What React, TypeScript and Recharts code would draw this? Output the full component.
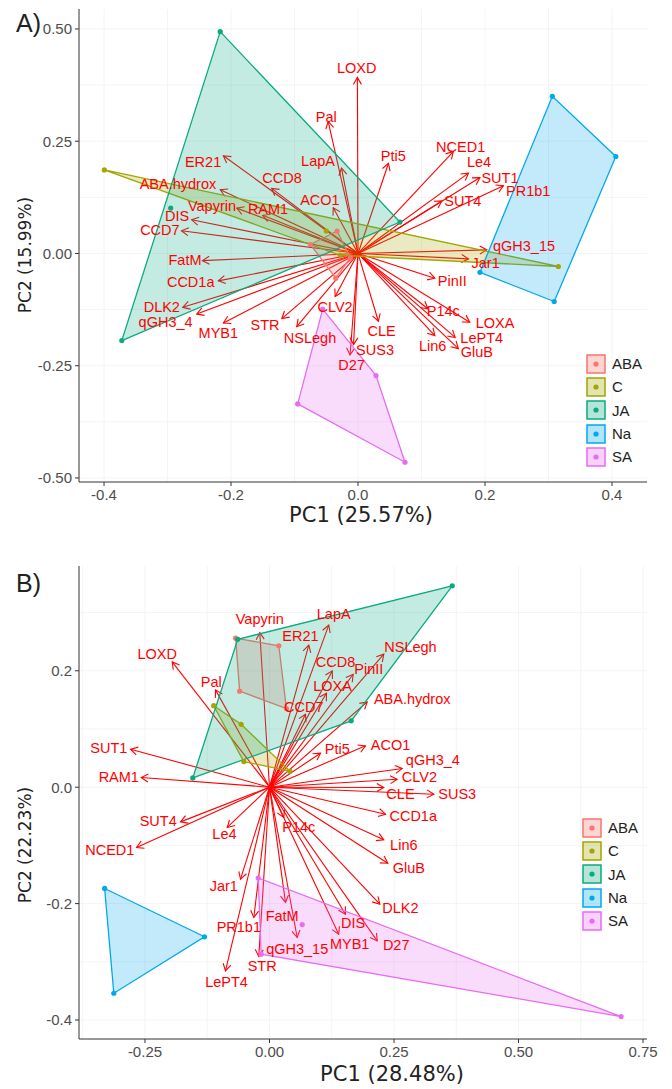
import React from "react";
import {
  ScatterChart,
  Scatter,
  XAxis,
  YAxis,
  CartesianGrid,
  ReferenceLine,
} from "recharts";

type Pt = { x: number; y: number };
type Gene = { name: string; x: number; y: number; lx: number; ly: number };

// treatment groups, same order as the legend
const groups = ["ABA", "C", "JA", "Na", "SA"];
const groupColors = ["#F8766D", "#A3A500", "#0AAA80", "#00A8EE", "#E76BF3"];

// ---- panel A: sample scores (PC1, PC2) ----
const abaA: Pt[] = [
  { x: -0.033, y: 0.05 },
  { x: -0.075, y: 0.02 },
  { x: -0.035, y: -0.055 },
  { x: -0.012, y: -0.01 },
];
const cA: Pt[] = [
  { x: -0.3995, y: 0.186 },
  { x: -0.028, y: -0.004 },
  { x: 0.3155, y: -0.029 },
  { x: -0.05, y: 0.05 },
];
const jaA: Pt[] = [
  { x: -0.217, y: 0.494 },
  { x: -0.295, y: 0.101 },
  { x: -0.372, y: -0.194 },
  { x: 0.066, y: 0.07 },
];
const naA: Pt[] = [
  { x: 0.306, y: 0.35 },
  { x: 0.406, y: 0.216 },
  { x: 0.309, y: -0.107 },
  { x: 0.192, y: -0.042 },
];
const saA: Pt[] = [
  { x: -0.0556, y: -0.124 },
  { x: 0.0283, y: -0.272 },
  { x: 0.074, y: -0.465 },
  { x: -0.095, y: -0.335 },
];

// ---- panel A: gene loadings (arrow tip) and where the label sits ----
const genesA: Gene[] = [
  { name: "LOXD", x: -0.001, y: 0.392, lx: -0.002, ly: 0.413 },
  { name: "Pal", x: -0.047, y: 0.294, lx: -0.05, ly: 0.305 },
  { name: "ER21", x: -0.212, y: 0.2176, lx: -0.244, ly: 0.2027 },
  { name: "LapA", x: -0.026, y: 0.19, lx: -0.063, ly: 0.205 },
  { name: "Pti5", x: 0.048, y: 0.201, lx: 0.0556, ly: 0.216 },
  { name: "NCED1", x: 0.15, y: 0.227, lx: 0.1617, ly: 0.2367 },
  { name: "Le4", x: 0.174, y: 0.179, lx: 0.1906, ly: 0.203 },
  { name: "SUT1", x: 0.192, y: 0.169, lx: 0.2236, ly: 0.168 },
  { name: "PR1b1", x: 0.229, y: 0.151, lx: 0.268, ly: 0.14 },
  { name: "CCD8", x: -0.136, y: 0.145, lx: -0.1197, ly: 0.167 },
  { name: "ACO1", x: -0.039, y: 0.102, lx: -0.06, ly: 0.12 },
  { name: "SUT4", x: 0.132, y: 0.117, lx: 0.165, ly: 0.116 },
  { name: "ABA.hydrox", x: -0.217, y: 0.142, lx: -0.2835, ly: 0.1537 },
  { name: "Vapyrin", x: -0.191, y: 0.101, lx: -0.23, ly: 0.1047 },
  { name: "RAM1", x: -0.15, y: 0.085, lx: -0.1417, ly: 0.098 },
  { name: "DIS", x: -0.262, y: 0.075, lx: -0.285, ly: 0.0824 },
  { name: "CCD7", x: -0.278, y: 0.0505, lx: -0.312, ly: 0.0512 },
  { name: "qGH3_15", x: 0.2027, y: 0.008, lx: 0.2614, ly: 0.0156 },
  { name: "Jar1", x: 0.174, y: -0.012, lx: 0.201, ly: -0.0216 },
  { name: "FatM", x: -0.245, y: -0.016, lx: -0.2724, ly: -0.0156 },
  { name: "CCD1a", x: -0.22, y: -0.061, lx: -0.2635, ly: -0.064 },
  { name: "PinII", x: 0.121, y: -0.055, lx: 0.1485, ly: -0.0608 },
  { name: "DLK2", x: -0.276, y: -0.12, lx: -0.309, ly: -0.12 },
  { name: "qGH3_4", x: -0.254, y: -0.135, lx: -0.303, ly: -0.153 },
  { name: "MYB1", x: -0.212, y: -0.155, lx: -0.22, ly: -0.1775 },
  { name: "STR", x: -0.12, y: -0.145, lx: -0.1465, ly: -0.16 },
  { name: "NSLegh", x: -0.0965, y: -0.163, lx: -0.0756, ly: -0.1886 },
  { name: "CLV2", x: -0.036, y: -0.096, lx: -0.0362, ly: -0.12 },
  { name: "CLE", x: 0.032, y: -0.151, lx: 0.0373, ly: -0.1737 },
  { name: "SUS3", x: -0.007, y: -0.203, lx: 0.0268, ly: -0.2145 },
  { name: "D27", x: -0.0126, y: -0.226, lx: -0.01, ly: -0.248 },
  { name: "P14c", x: 0.11, y: -0.123, lx: 0.1343, ly: -0.129 },
  { name: "LOXA", x: 0.176, y: -0.153, lx: 0.2157, ly: -0.155 },
  { name: "LePT4", x: 0.153, y: -0.187, lx: 0.1948, ly: -0.1886 },
  { name: "Lin6", x: 0.121, y: -0.183, lx: 0.1176, ly: -0.2056 },
  { name: "GluB", x: 0.158, y: -0.212, lx: 0.187, ly: -0.2198 },
];

// ---- panel B: sample scores ----
const abaB: Pt[] = [
  { x: -0.068, y: 0.256 },
  { x: 0.0187, y: 0.243 },
  { x: 0.034, y: 0.135 },
  { x: -0.06, y: 0.165 },
];
const cB: Pt[] = [
  { x: -0.112, y: 0.14 },
  { x: -0.057, y: 0.108 },
  { x: 0.041, y: 0.0275 },
  { x: -0.0516, y: 0.044 },
];
const jaB: Pt[] = [
  { x: -0.0637, y: 0.254 },
  { x: 0.367, y: 0.346 },
  { x: 0.164, y: 0.114 },
  { x: -0.154, y: 0.016 },
];
const naB: Pt[] = [
  { x: -0.331, y: -0.174 },
  { x: -0.1305, y: -0.257 },
  { x: -0.3126, y: -0.354 },
];
const saB: Pt[] = [
  { x: -0.0227, y: -0.156 },
  { x: 0.706, y: -0.394 },
  { x: -0.0167, y: -0.287 },
  { x: 0.0657, y: -0.236 },
];

// ---- panel B: gene loadings ----
const genesB: Gene[] = [
  { name: "LOXD", x: -0.1954, y: 0.2153, lx: -0.2255, ly: 0.2285 },
  { name: "Vapyrin", x: -0.0195, y: 0.2658, lx: -0.0195, ly: 0.2887 },
  { name: "ER21", x: 0.0789, y: 0.244, lx: 0.0622, ly: 0.26 },
  { name: "LapA", x: 0.119, y: 0.2784, lx: 0.129, ly: 0.2973 },
  { name: "CCD8", x: 0.126, y: 0.1998, lx: 0.1325, ly: 0.2143 },
  { name: "PinII", x: 0.168, y: 0.194, lx: 0.1994, ly: 0.2027 },
  { name: "NSLegh", x: 0.2295, y: 0.2285, lx: 0.2831, ly: 0.24 },
  { name: "Pal", x: -0.1084, y: 0.1672, lx: -0.117, ly: 0.181 },
  { name: "LOXA", x: 0.1145, y: 0.1615, lx: 0.1265, ly: 0.1735 },
  { name: "CCD7", x: 0.0723, y: 0.1254, lx: 0.0689, ly: 0.137 },
  { name: "ABA.hydrox", x: 0.1962, y: 0.1466, lx: 0.2865, ly: 0.1512 },
  { name: "Pti5", x: 0.1024, y: 0.0584, lx: 0.136, ly: 0.0653 },
  { name: "ACO1", x: 0.1928, y: 0.071, lx: 0.243, ly: 0.0727 },
  { name: "SUT1", x: -0.279, y: 0.0653, lx: -0.3227, ly: 0.0665 },
  { name: "qGH3_4", x: 0.2665, y: 0.0321, lx: 0.328, ly: 0.046 },
  { name: "RAM1", x: -0.2576, y: 0.0167, lx: -0.3026, ly: 0.0167 },
  { name: "CLV2", x: 0.2564, y: 0.0137, lx: 0.301, ly: 0.017 },
  { name: "CLE", x: 0.2295, y: -0.0005, lx: 0.263, ly: -0.012 },
  { name: "SUS3", x: 0.33, y: -0.012, lx: 0.377, ly: -0.012 },
  { name: "CCD1a", x: 0.233, y: -0.0464, lx: 0.2886, ly: -0.0493 },
  { name: "SUT4", x: -0.1787, y: -0.0596, lx: -0.2235, ly: -0.058 },
  { name: "Le4", x: -0.0849, y: -0.0692, lx: -0.0904, ly: -0.0808 },
  { name: "P14c", x: 0.0287, y: -0.052, lx: 0.0588, ly: -0.0692 },
  { name: "Lin6", x: 0.2295, y: -0.0905, lx: 0.2697, ly: -0.0997 },
  { name: "NCED1", x: -0.267, y: -0.1036, lx: -0.3207, ly: -0.1077 },
  { name: "GluB", x: 0.2376, y: -0.1306, lx: 0.2797, ly: -0.138 },
  { name: "Jar1", x: -0.0582, y: -0.158, lx: -0.0918, ly: -0.1706 },
  { name: "DLK2", x: 0.2215, y: -0.201, lx: 0.263, ly: -0.2067 },
  { name: "PR1b1", x: -0.0315, y: -0.2239, lx: -0.0616, ly: -0.241 },
  { name: "FatM", x: 0.0321, y: -0.198, lx: 0.0255, ly: -0.2211 },
  { name: "DIS", x: 0.1526, y: -0.2182, lx: 0.168, ly: -0.2337 },
  { name: "MYB1", x: 0.139, y: -0.2526, lx: 0.161, ly: -0.2698 },
  { name: "D27", x: 0.2163, y: -0.2641, lx: 0.2544, ly: -0.271 },
  { name: "qGH3_15", x: 0.0556, y: -0.2582, lx: 0.0556, ly: -0.278 },
  { name: "STR", x: -0.0215, y: -0.2909, lx: -0.0147, ly: -0.307 },
  { name: "LePT4", x: -0.0884, y: -0.3156, lx: -0.0863, ly: -0.3345 },
];

// axis ticks
const xTicksA = [-0.4, -0.2, 0, 0.2, 0.4];
const yTicksA = [-0.5, -0.25, 0, 0.25, 0.5];
const xTicksB = [-0.25, 0, 0.25, 0.5, 0.75];
const yTicksB = [-0.4, -0.2, 0, 0.2];

const FONT = "'Liberation Sans', Arial, sans-serif";
const TITLE_FONT = "'DejaVu Sans', Verdana, sans-serif";

// convex hull, like stat_chull
function hull(pts: Pt[]): Pt[] {
  const p = [...pts].sort((a, b) => a.x - b.x || a.y - b.y);
  if (p.length < 3) return p;
  const cross = (o: Pt, a: Pt, b: Pt) =>
    (a.x - o.x) * (b.y - o.y) - (a.y - o.y) * (b.x - o.x);
  const lower: Pt[] = [];
  for (const q of p) {
    while (lower.length >= 2 && cross(lower[lower.length - 2], lower[lower.length - 1], q) <= 0)
      lower.pop();
    lower.push(q);
  }
  const upper: Pt[] = [];
  for (const q of [...p].reverse()) {
    while (upper.length >= 2 && cross(upper[upper.length - 2], upper[upper.length - 1], q) <= 0)
      upper.pop();
    upper.push(q);
  }
  lower.pop();
  upper.pop();
  return lower.concat(upper);
}

const Arrow = (p: any) => {
  const { x1, y1, x2, y2 } = p;
  const ang = Math.atan2(y2 - y1, x2 - x1);
  const L = 8;
  const w = Math.PI / 6;
  const ax = x2 - L * Math.cos(ang - w);
  const ay = y2 - L * Math.sin(ang - w);
  const bx = x2 - L * Math.cos(ang + w);
  const by = y2 - L * Math.sin(ang + w);
  return (
    <g>
      <line x1={x1} y1={y1} x2={x2} y2={y2} stroke="#FF0000" strokeWidth={1.1} />
      <polyline
        points={`${ax},${ay} ${x2},${y2} ${bx},${by}`}
        fill="none"
        stroke="#FF0000"
        strokeWidth={1.1}
      />
    </g>
  );
};

const GeneLabel = (p: any) => (
  <text
    x={p.cx}
    y={p.cy}
    textAnchor="middle"
    dominantBaseline="central"
    fill="#FF0000"
    fontSize={14.5}
    fontFamily={FONT}
  >
    {p.payload.name}
  </text>
);

function Biplot(props: {
  samples: Pt[][];
  genes: Gene[];
  xDomain: [number, number];
  yDomain: [number, number];
  xTicks: number[];
  yTicks: number[];
  xDigits: number;
  yDigits: number;
  gridX: number[];
  gridY: number[];
  height: number;
  top: number;
  bottom: number;
}) {
  const { samples, genes } = props;
  return (
    <ScatterChart
      width={672}
      height={props.height}
      margin={{ top: props.top, right: 25, bottom: props.bottom, left: 0 }}
    >
      <CartesianGrid stroke="#f4f4f4" verticalValues={props.gridX} horizontalValues={props.gridY} />
      <XAxis
        type="number"
        dataKey="x"
        domain={props.xDomain}
        allowDataOverflow
        ticks={props.xTicks}
        interval={0}
        height={30}
        tickSize={4}
        tickMargin={3}
        tickFormatter={(v: number) => v.toFixed(props.xDigits)}
        axisLine={{ stroke: "#333" }}
        tickLine={{ stroke: "#333" }}
        tick={{ fill: "#4D4D4D", fontSize: 15, fontFamily: FONT }}
      />
      <YAxis
        type="number"
        dataKey="y"
        domain={props.yDomain}
        allowDataOverflow
        ticks={props.yTicks}
        interval={0}
        width={79}
        tickSize={4}
        tickMargin={3}
        tickFormatter={(v: number) => v.toFixed(props.yDigits)}
        axisLine={{ stroke: "#333" }}
        tickLine={{ stroke: "#333" }}
        tick={{ fill: "#4D4D4D", fontSize: 15, fontFamily: FONT }}
      />
      {samples.map((s, i) => (
        <Scatter
          key={"hull" + i}
          data={hull(s)}
          isAnimationActive={false}
          shape={() => <g />}
          line={(lp: any) => (
            <polygon
              points={lp.points.map((q: any) => `${q.x},${q.y}`).join(" ")}
              fill={groupColors[i]}
              fillOpacity={0.24}
              stroke={groupColors[i]}
              strokeWidth={1.3}
            />
          )}
        />
      ))}
      {samples.map((s, i) => (
        <Scatter
          key={"pts" + i}
          data={s}
          isAnimationActive={false}
          shape={(sp: any) => <circle cx={sp.cx} cy={sp.cy} r={2.6} fill={groupColors[i]} />}
        />
      ))}
      {genes.map((g) => (
        <ReferenceLine
          key={g.name}
          segment={[
            { x: 0, y: 0 },
            { x: g.x, y: g.y },
          ]}
          ifOverflow="visible"
          shape={Arrow}
        />
      ))}
      <Scatter
        data={genes.map((g) => ({ x: g.lx, y: g.ly, name: g.name }))}
        isAnimationActive={false}
        shape={GeneLabel}
      />
    </ScatterChart>
  );
}

function LegendBox({ left, top }: { left: number; top: number }) {
  return (
    <div style={{ position: "absolute", left, top }}>
      {groups.map((g, i) => (
        <div key={g} style={{ display: "flex", alignItems: "center", height: 23.3 }}>
          <svg width={20} height={20}>
            <rect
              x={1}
              y={1}
              width={18}
              height={18}
              fill={groupColors[i]}
              fillOpacity={0.3}
              stroke={groupColors[i]}
              strokeWidth={1.5}
            />
            <circle cx={10} cy={10} r={2.6} fill={groupColors[i]} />
          </svg>
          <span style={{ marginLeft: 6, fontSize: 15, fontFamily: FONT, color: "#222" }}>{g}</span>
        </div>
      ))}
    </div>
  );
}

const abs = (s: React.CSSProperties): React.CSSProperties => ({ position: "absolute", ...s });

export default function App() {
  return (
    <div style={abs({ left: 0, top: 0, width: 672, height: 1089, background: "#fff", overflow: "hidden" })}>
      <div style={abs({ left: 0, top: 0 })}>
        <Biplot
          samples={[abaA, cA, jaA, naA, saA]}
          genes={genesA}
          xDomain={[-0.4394, 0.4551]}
          yDomain={[-0.509, 0.5445]}
          xTicks={xTicksA}
          yTicks={yTicksA}
          xDigits={1}
          yDigits={2}
          gridX={[-0.4, -0.3, -0.2, -0.1, 0, 0.1, 0.2, 0.3, 0.4]}
          gridY={[-0.5, -0.375, -0.25, -0.125, 0, 0.125, 0.25, 0.375, 0.5]}
          height={540}
          top={9}
          bottom={28}
        />
      </div>
      <div style={abs({ left: 0, top: 540 })}>
        <Biplot
          samples={[abaB, cB, jaB, naB, saB]}
          genes={genesB}
          xDomain={[-0.3825, 0.758]}
          yDomain={[-0.4326, 0.38]}
          xTicks={xTicksB}
          yTicks={yTicksB}
          xDigits={2}
          yDigits={1}
          gridX={[-0.375, -0.25, -0.125, 0, 0.125, 0.25, 0.375, 0.5, 0.625, 0.75]}
          gridY={[-0.4, -0.3, -0.2, -0.1, 0, 0.1, 0.2, 0.3]}
          height={549}
          top={26}
          bottom={20}
        />
      </div>

      <div style={abs({ left: 16, top: 8, fontSize: 25, fontFamily: FONT, color: "#222", lineHeight: "30px" })}>A)</div>
      <div style={abs({ left: 16, top: 568, fontSize: 25, fontFamily: FONT, color: "#222", lineHeight: "30px" })}>B)</div>

      <div style={abs({ left: 261, top: 503, width: 200, textAlign: "center", fontSize: 21, fontFamily: TITLE_FONT, color: "#222", lineHeight: "24px" })}>
        PC1 (25.57%)
      </div>
      <div style={abs({ left: 292, top: 1062, width: 200, textAlign: "center", fontSize: 21, fontFamily: TITLE_FONT, color: "#222", lineHeight: "24px" })}>
        PC1 (28.48%)
      </div>
      <div style={abs({ left: 25 - 80, top: 255 - 11, width: 160, textAlign: "center", fontSize: 17, fontFamily: TITLE_FONT, color: "#222", lineHeight: "22px", transform: "rotate(-90deg)" })}>
        PC2 (15.99%)
      </div>
      <div style={abs({ left: 25 - 80, top: 845 - 11, width: 160, textAlign: "center", fontSize: 17, fontFamily: TITLE_FONT, color: "#222", lineHeight: "22px", transform: "rotate(-90deg)" })}>
        PC2 (22.23%)
      </div>

      <LegendBox left={586} top={352} />
      <LegendBox left={582} top={816} />
    </div>
  );
}
